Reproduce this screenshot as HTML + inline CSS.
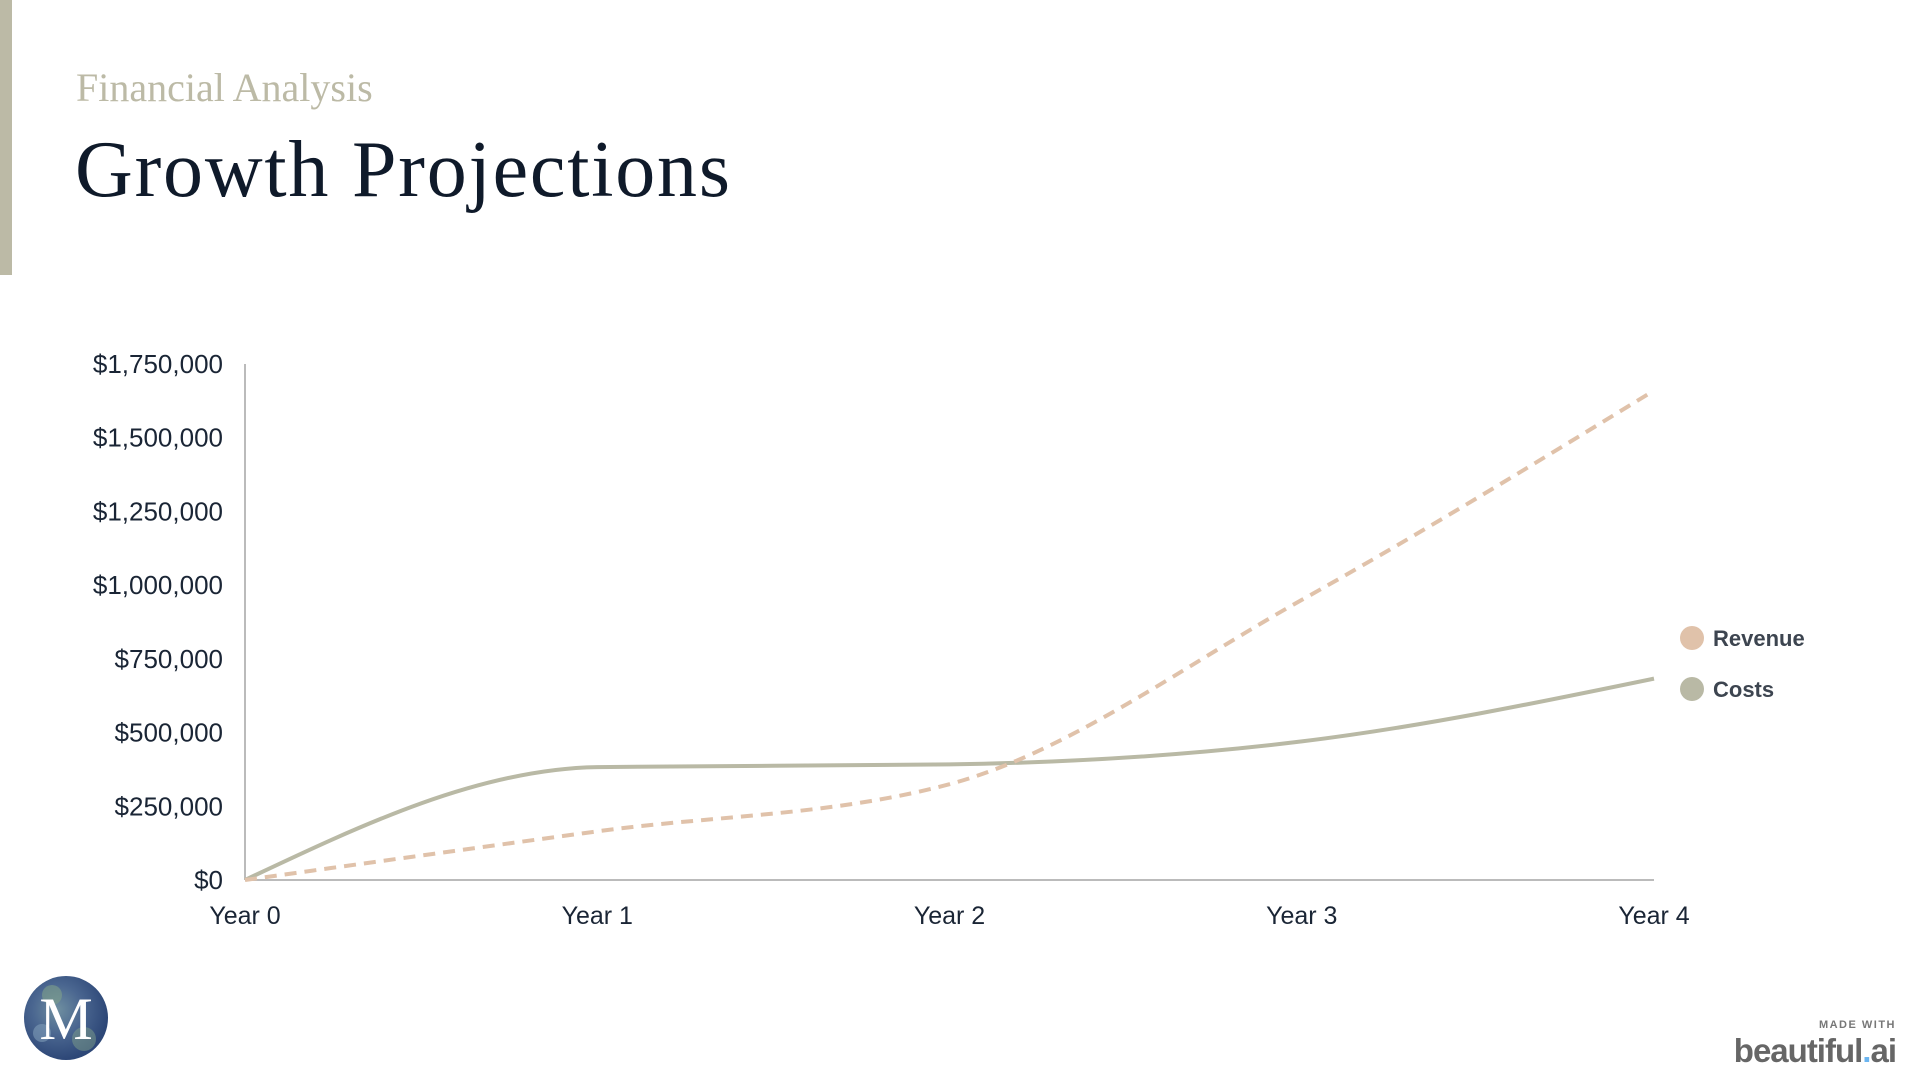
<!DOCTYPE html>
<html><head><meta charset="utf-8"><style>
html,body{margin:0;padding:0;background:#fff;}
body{width:1920px;height:1080px;position:relative;overflow:hidden;font-family:"Liberation Sans",sans-serif;}
</style></head><body>
<div style="position:absolute;left:0;top:0;width:12px;height:275px;background:#bcbaa6"></div>
<div style="position:absolute;left:76px;top:64px;font-family:'Liberation Serif',serif;font-size:40px;color:#bcbaa6;line-height:48px">Financial Analysis</div>
<div style="position:absolute;left:75px;top:122px;font-family:'Liberation Serif',serif;font-size:80px;color:#0f1a2a;line-height:96px;letter-spacing:1.8px">Growth Projections</div>
<svg id="chart" width="1920" height="1080" style="position:absolute;left:0;top:0"></svg>
<svg width="90" height="90" style="position:absolute;left:22px;top:973px">
<defs><radialGradient id="lg" cx="40%" cy="40%" r="60%"><stop offset="0" stop-color="#6f8fa0"/><stop offset="0.5" stop-color="#4a6690"/><stop offset="1" stop-color="#2d4777"/></radialGradient></defs>
<circle cx="44" cy="45" r="42" fill="url(#lg)"/>
<circle cx="30" cy="22" r="10" fill="#7fa08a" opacity="0.6"/><circle cx="62" cy="66" r="12" fill="#7fa08a" opacity="0.5"/><circle cx="20" cy="60" r="9" fill="#8aa8c0" opacity="0.5"/>
<text x="44" y="66" text-anchor="middle" font-family="Liberation Serif,serif" font-size="60" fill="#fff">M</text>
</svg>
<div style="position:absolute;right:24px;top:1019px;font-size:11px;letter-spacing:1.5px;color:#777;font-weight:bold">MADE WITH</div>
<div style="position:absolute;right:24px;top:1032px;font-size:33px;font-weight:bold;color:#666;letter-spacing:-1px">beautiful<span style="color:#6bb5f0">.</span>ai</div>
<script>
const categories=["Year 0","Year 1","Year 2","Year 3","Year 4"];
const revenue=[0,165000,325000,950000,1660000];
const costs=[0,383000,392000,470000,683000];
const yTicks=[0,250000,500000,750000,1000000,1250000,1500000,1750000];
const yTickLabels=["$0","$250,000","$500,000","$750,000","$1,000,000","$1,250,000","$1,500,000","$1,750,000"];
const seriesNames=["Revenue","Costs"];

const svg=document.getElementById('chart');
const NS='http://www.w3.org/2000/svg';
const X0=245,X1=1654,Y0=880,YT=364,YMAX=1750000;
function xs(i){return X0+(X1-X0)*i/(categories.length-1);}
function ys(v){return Y0-(Y0-YT)*v/YMAX;}
function mk(t,a){const e=document.createElementNS(NS,t);for(const k in a)e.setAttribute(k,a[k]);svg.appendChild(e);return e;}
function monotone(pts){
  const n=pts.length,d=[],m=[];
  for(let i=0;i<n-1;i++)d.push((pts[i+1][1]-pts[i][1])/(pts[i+1][0]-pts[i][0]));
  for(let i=0;i<n;i++){
    if(i==0)m.push(d[0]);else if(i==n-1)m.push(d[n-2]);
    else{ if(d[i-1]*d[i]<=0)m.push(0);else{const h0=pts[i][0]-pts[i-1][0],h1=pts[i+1][0]-pts[i][0];const s=(d[i-1]*h1+d[i]*h0)/(h0+h1);m.push(Math.sign(s)*Math.min(Math.abs(s),2*Math.abs(d[i-1]),2*Math.abs(d[i])));} }
  }
  m[0]=(3*d[0]-m[1])/2;m[n-1]=(3*d[n-2]-m[n-2])/2;
  let p='M'+pts[0][0]+','+pts[0][1];
  for(let i=0;i<n-1;i++){const h=(pts[i+1][0]-pts[i][0])/3;
    p+=' C'+(pts[i][0]+h)+','+(pts[i][1]+h*m[i])+' '+(pts[i+1][0]-h)+','+(pts[i+1][1]-h*m[i+1])+' '+pts[i+1][0]+','+pts[i+1][1];}
  return p;
}
yTicks.forEach((v,i)=>{
  const t=mk('text',{x:223,y:ys(v)+9,'text-anchor':'end','font-size':26,fill:'#1a2535','font-family':'Liberation Sans,sans-serif'});
  
  
  t.textContent=yTickLabels[i];
});
categories.forEach((c,i)=>{
  const t=mk('text',{x:xs(i),y:924,'text-anchor':'middle','font-size':25,fill:'#1a2535','font-family':'Liberation Sans,sans-serif'});
  
  
  t.textContent=c;
});
const ya=mk('line',{x1:X0,y1:YT,x2:X0,y2:Y0,stroke:'#bbb','stroke-width':2});


const xa=mk('line',{x1:X0,y1:Y0,x2:X1,y2:Y0,stroke:'#bbb','stroke-width':2});


const cl=mk('path',{d:monotone(costs.map((v,i)=>[xs(i),ys(v)])),fill:'none',stroke:'#b9b9a5','stroke-width':4});


const rl=mk('path',{d:monotone(revenue.map((v,i)=>[xs(i),ys(v)])),fill:'none',stroke:'#e0c2aa','stroke-width':4,'stroke-dasharray':'12 8'});


const lc=['#e0c2aa','#b9b9a5'];
seriesNames.forEach((s,i)=>{
  const y=638+i*51;
  const c=mk('circle',{cx:1692,cy:y,r:12,fill:lc[i]});
  
  
  const t=mk('text',{x:1713,y:y+8,'font-size':22,'font-weight':'bold',fill:'#3d4550','font-family':'Liberation Sans,sans-serif'});
  
  
  t.textContent=s;
});
</script>
</body></html>
